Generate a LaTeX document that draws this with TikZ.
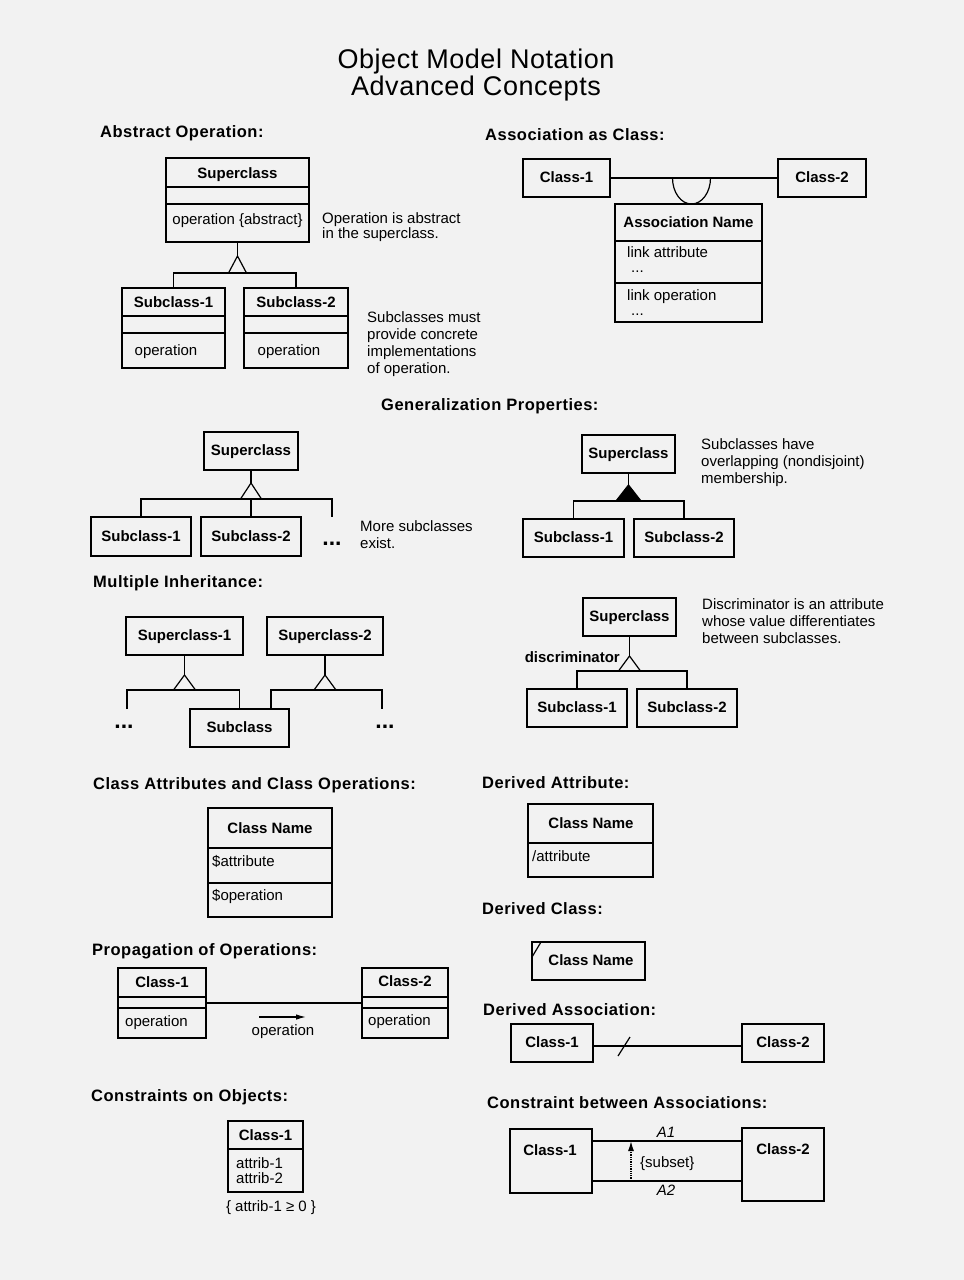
\documentclass[tikz,border=0pt]{standalone}
\usepackage{fontspec}
\setmainfont{Liberation Sans}
\usetikzlibrary{arrows.meta,calc,fit}
\tikzset{
  ln/.style={line width=1.2pt},
  box/.style={draw, ln, inner sep=0pt, outer sep=0pt},
  hd/.style={anchor=mid west, inner sep=0pt, yshift=-2pt, font=\fontsize{16.5}{18}\selectfont\bfseries\addfontfeatures{LetterSpace=3}},
  nm/.style={inner sep=0pt, anchor=mid, yshift=-2pt, font=\fontsize{15}{17}\selectfont\bfseries},
  tx/.style={inner sep=0pt, anchor=mid, yshift=-2pt, font=\fontsize{15}{17}\selectfont},
  txl/.style={tx, anchor=mid west},
  itx/.style={inner sep=0pt, anchor=mid, yshift=-2pt, font=\fontsize{15}{17}\selectfont\itshape},
  note/.style={inner sep=0pt, anchor=north west, align=left, font=\fontsize{15}{17.3}\selectfont},
  bdots/.style={inner sep=0pt, anchor=base, font=\fontsize{23}{24}\selectfont\bfseries},
  sdots/.style={inner sep=0pt, anchor=base west, font=\fontsize{15}{17}\selectfont},
  bg/.style={fill=black!5},
}
\newcommand{\bx}[5]{\node[box, fit={(#2,#3) (#4,#5)}] (#1) {};}
\newcommand{\divln}[2]{\draw[ln] (#1.west |- 0,#2) -- (#1.east |- 0,#2);}
\begin{document}
\begin{tikzpicture}[x=1pt,y=-1pt]
\fill[bg] (0,0) rectangle (964,1280);
\useasboundingbox (0,0) rectangle (964,1280);

% Title
\node[inner sep=0pt, align=center, font=\fontsize{27}{27}\selectfont\addfontfeatures{LetterSpace=2}] (title) at (476,75) {Object Model Notation\\Advanced Concepts};

% Headings
\node[hd] (h1) at (100,133) {Abstract Operation:};
\node[hd] (h2) at (485,136) {Association as Class:};
\node[hd] (h3) at (381,406) {Generalization Properties:};
\node[hd] (h4) at (93,583) {Multiple Inheritance:};
\node[hd] (h5) at (93,785) {Class Attributes and Class Operations:};
\node[hd] (h6) at (482,784) {Derived Attribute:};
\node[hd] (h7) at (482,910) {Derived Class:};
\node[hd] (h8) at (92,951) {Propagation of Operations:};
\node[hd] (h9) at (483,1011) {Derived Association:};
\node[hd] (h10) at (91,1097) {Constraints on Objects:};
\node[hd] (h11) at (487,1104) {Constraint between Associations:};

% ---------- Abstract Operation
\bx{ao-sup}{166}{158}{309}{242}
\divln{ao-sup}{187}
\divln{ao-sup}{204}
\node[nm] (ao-supn) at (237.5,174) {Superclass};
\node[tx] (ao-op) at (237.5,220) {operation \{abstract\}};
\bx{ao-s1}{122}{288}{225}{368}
\divln{ao-s1}{316}
\divln{ao-s1}{333}
\bx{ao-s2}{244}{288}{348}{368}
\divln{ao-s2}{316}
\divln{ao-s2}{333}
\node[nm] (ao-s1n) at (173.5,303) {Subclass-1};
\node[nm] (ao-s2n) at (296,303) {Subclass-2};
\node[tx] (ao-s1o) at (166,351) {operation};
\node[tx] (ao-s2o) at (289,351) {operation};
\coordinate (ao-t) at (ao-sup.south |- 0,256);
\coordinate (ao-b) at (ao-sup.south |- 0,273);
\draw[ln] (ao-sup.south) -- (ao-t);
\draw[ln, line join=miter] (ao-t) -- ++(-9,17) -- ++(18,0) -- cycle;
\draw[ln] (ao-s1.north) |- (ao-b) -| (ao-s2.north);
\node[note, font=\fontsize{15}{15.8}\selectfont] (ao-n1) at (322,212) {Operation is abstract\\in the superclass.};
\node[note] (ao-n2) at (367,311) {Subclasses must\\provide concrete\\implementations\\of operation.};

% ---------- Association as Class
\bx{ac-c1}{523}{159}{610}{197}
\bx{ac-c2}{778}{159}{866}{197}
\node[nm] (ac-c1n) at (ac-c1) {Class-1};
\node[nm] (ac-c2n) at (ac-c2) {Class-2};
\draw[ln] (ac-c1) -- (ac-c2);
\bx{ac-an}{615}{204}{762}{322}
\divln{ac-an}{241}
\divln{ac-an}{283}
\draw[ln] ($(ac-an.north |- ac-c1.east)+(-16,0)$) arc[start angle=180, end angle=0, x radius=19, y radius=26];
\node[nm] (ac-ann) at (688.5,223) {Association Name};
\node[txl] (ac-la) at (627,253) {link attribute};
\node[sdots] (ac-d1) at (631,272) {...};
\node[txl] (ac-lo) at (627,296) {link operation};
\node[sdots] (ac-d2) at (631,315) {...};

% ---------- Generalization (left)
\bx{gp-sup}{204}{432}{298}{470}
\node[nm] (gp-supn) at (gp-sup) {Superclass};
\coordinate (gp-t) at (gp-sup.south |- 0,483);
\coordinate (gp-b) at (gp-sup.south |- 0,499);
\draw[ln] (gp-sup.south) -- (gp-t);
\draw[ln, line join=miter] (gp-t) -- ++(-10.5,16) -- ++(21,0) -- cycle;
\bx{gp-s1}{91}{517}{191}{556}
\bx{gp-s2}{201}{517}{301}{556}
\node[nm] (gp-s1n) at (gp-s1) {Subclass-1};
\node[nm] (gp-s2n) at (gp-s2) {Subclass-2};
\coordinate (gp-more) at (332,517);
\draw[ln] (gp-s1.north) |- (gp-b) -| (gp-more);
\draw[ln] (gp-b) -- (gp-s2.north);
\node[bdots] (gp-dots) at (332,545) {...};
\node[note] (gp-note) at (360,520) {More subclasses\\exist.};

% ---------- Generalization (overlapping)
\bx{ov-sup}{582}{435}{675}{473}
\node[nm] (ov-supn) at (ov-sup) {Superclass};
\coordinate (ov-t) at (ov-sup.south |- 0,485);
\coordinate (ov-b) at (ov-sup.south |- 0,501);
\draw[ln] (ov-sup.south) -- (ov-t);
\draw[ln, line join=miter, fill=black] (ov-t) -- ++(-12.5,16) -- ++(25,0) -- cycle;
\bx{ov-s1}{523}{519}{624}{557}
\bx{ov-s2}{634}{519}{734}{557}
\node[nm] (ov-s1n) at (ov-s1) {Subclass-1};
\node[nm] (ov-s2n) at (ov-s2) {Subclass-2};
\draw[ln] (ov-s1.north) |- (ov-b) -| (ov-s2.north);
\node[note] (ov-note) at (701,438) {Subclasses have\\overlapping (nondisjoint)\\membership.};

% ---------- Multiple Inheritance
\bx{mi-s1}{126}{617}{243}{655}
\bx{mi-s2}{267}{617}{383}{655}
\node[nm] (mi-s1n) at (mi-s1) {Superclass-1};
\node[nm] (mi-s2n) at (mi-s2) {Superclass-2};
\bx{mi-sub}{190}{709}{289}{747}
\node[nm] (mi-subn) at (mi-sub) {Subclass};
\coordinate (mi-t1) at (mi-s1.south |- 0,675);
\coordinate (mi-b1) at (mi-s1.south |- 0,690);
\coordinate (mi-t2) at (mi-s2.south |- 0,675);
\coordinate (mi-b2) at (mi-s2.south |- 0,690);
\draw[ln] (mi-s1.south) -- (mi-t1);
\draw[ln, line join=miter] (mi-t1) -- ++(-11,15) -- ++(22,0) -- cycle;
\draw[ln] (mi-s2.south) -- (mi-t2);
\draw[ln, line join=miter] (mi-t2) -- ++(-11,15) -- ++(22,0) -- cycle;
\coordinate (mi-l) at (127,709);
\coordinate (mi-r) at (382,709);
\coordinate (mi-j) at ($(mi-sub.north)+(31.5,0)$);
\draw[ln] (mi-l) |- (mi-b1) -| (mi-sub.north);
\draw[ln] (mi-j) |- (mi-b2) -| (mi-r);
\node[bdots] (mi-dl) at (124,728) {...};
\node[bdots] (mi-dr) at (385,728) {...};

% ---------- Discriminator
\bx{di-sup}{583}{598}{676}{636}
\node[nm] (di-supn) at (di-sup) {Superclass};
\coordinate (di-t) at (di-sup.south |- 0,656);
\coordinate (di-b) at (di-sup.south |- 0,671);
\draw[ln] (di-sup.south) -- (di-t);
\draw[ln, line join=miter] (di-t) -- ++(-11,15) -- ++(22,0) -- cycle;
\bx{di-s1}{527}{689}{627}{727}
\bx{di-s2}{637}{689}{737}{727}
\node[nm] (di-s1n) at (di-s1) {Subclass-1};
\node[nm] (di-s2n) at (di-s2) {Subclass-2};
\draw[ln] (di-s1.north) |- (di-b) -| (di-s2.north);
\node[nm, anchor=mid east] (di-lab) at (620,658) {discriminator};
\node[note] (di-note) at (702,598) {Discriminator is an attribute\\whose value differentiates\\between subclasses.};

% ---------- Class Attributes and Class Operations
\bx{ca-box}{208}{808}{332}{917}
\divln{ca-box}{848}
\divln{ca-box}{883}
\node[nm] (ca-n) at (270,829) {Class Name};
\node[txl] (ca-a) at (212,862) {\$attribute};
\node[txl] (ca-o) at (212,896) {\$operation};

% ---------- Derived Attribute
\bx{da-box}{528}{804}{653}{877}
\divln{da-box}{843}
\node[nm] (da-n) at (591,824) {Class Name};
\node[txl] (da-a) at (532,857) {/attribute};

% ---------- Derived Class
\bx{dc-box}{532}{942}{645}{980}
\node[nm] (dc-n) at (591,961) {Class Name};
\draw[ln] ([shift={(0,15)}]dc-box.north west) -- ([shift={(9,0)}]dc-box.north west);

% ---------- Propagation of Operations
\bx{po-c1}{118}{968}{206}{1038}
\divln{po-c1}{997}
\divln{po-c1}{1008}
\bx{po-c2}{362}{968}{448}{1038}
\divln{po-c2}{997}
\divln{po-c2}{1008}
\node[nm] (po-c1n) at (162,983) {Class-1};
\node[nm] (po-c2n) at (405,982) {Class-2};
\node[txl] (po-c1o) at (125,1022) {operation};
\node[txl] (po-c2o) at (368,1021) {operation};
\draw[ln] (po-c1) -- (po-c2);
\coordinate (po-a1) at (259,1017);
\coordinate (po-a2) at (306,1017);
\draw[line width=1.2pt, -{Latex[length=10pt,width=5.5pt]}] (po-a1) -- (po-a2);
\node[tx] (po-lab) at (283,1031) {operation};

% ---------- Derived Association
\bx{dz-c1}{511}{1024}{593}{1062}
\bx{dz-c2}{742}{1024}{824}{1062}
\node[nm] (dz-c1n) at (dz-c1) {Class-1};
\node[nm] (dz-c2n) at (dz-c2) {Class-2};
\draw[ln] ([yshift=-3pt]dz-c1.east) -- ([yshift=-3pt]dz-c2.west);
\coordinate (dz-m) at (624,1046);
\draw[ln] ([shift={(-6,10)}]dz-m) -- ([shift={(6,-9)}]dz-m);

% ---------- Constraints on Objects
\bx{co-box}{228}{1121}{303}{1192}
\divln{co-box}{1149}
\node[nm] (co-n) at (265.5,1136) {Class-1};
\node[note, font=\fontsize{15}{15.7}\selectfont] (co-a) at (236,1157) {attrib-1\\attrib-2};
\node[tx] (co-c) at (271,1207) {\{ attrib-1 ≥ 0 \}};

% ---------- Constraint between Associations
\bx{cb-c1}{510}{1129}{592}{1193}
\bx{cb-c2}{742}{1128}{824}{1201}
\node[nm] (cb-c1n) at (550,1151) {Class-1};
\node[nm] (cb-c2n) at (783,1150) {Class-2};
\draw[ln] (cb-c1.east |- 0,1141) -- (cb-c2.west |- 0,1141);
\draw[ln] (cb-c1.east |- 0,1181) -- (cb-c2.west |- 0,1181);
\coordinate (cb-d1) at (631,1181);
\coordinate (cb-d2) at (631,1141);
\draw[line width=1.3pt, densely dotted, -{Latex[length=10pt,width=6pt]}] (cb-d1) -- (cb-d2);
\node[itx] (cb-a1) at (666,1133) {A1};
\node[itx] (cb-a2) at (666,1191) {A2};
\node[txl] (cb-sub) at (640,1163) {\{subset\}};
\end{tikzpicture}
\end{document}
